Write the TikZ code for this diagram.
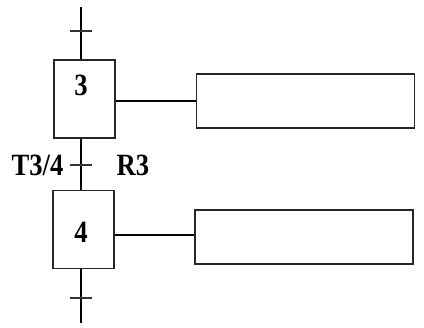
\documentclass[tikz,border=0pt]{standalone}
\usepackage{fontspec}
\setmainfont{Liberation Serif}
\usepackage{tikz}
\newcommand{\lbl}[1]{\scalebox{0.86}[1]{\fontsize{22}{25}\selectfont\bfseries #1}}
\tikzset{
    stepbox/.style={draw=black!85, line width=1.3pt, minimum width=1.525cm, minimum height=1.95cm, inner sep=0},
    actbox/.style={draw=black!85, line width=1.3pt, minimum width=5.45cm, minimum height=1.35cm, inner sep=0},
    tick/.style={fill=black!80, minimum width=0.525cm, minimum height=0.06cm, inner sep=0},
    wire/.style={line width=1.1pt, color=black}
}
\begin{document}
\begin{tikzpicture}[x=0.025cm, y=-0.025cm]
                \useasboundingbox (0, 0) rectangle (424, 328);
                \coordinate (in) at (81, 7);
                \coordinate (out) at (81, 323);
                \node[stepbox] (step3) at (84.5, 99) {};
                \node[stepbox] (step4) at (83.5, 229.5) {};
                \node[actbox] (act3) at (305.5, 101) {};
                \node[actbox] (act4) at (304, 237) {};

                \node (num3) at (81, 85) {\lbl{3}};
                \node (num4) at (81, 232) {\lbl{4}};

                \draw[wire] (in) -- (in |- step3.north);
                \draw[wire] (in |- step3.south) -- (in |- step4.north);
                \draw[wire] (in |- step4.south) -- (out);
                \draw[wire] (step3.east |- act3.west) -- (act3.west);
                \draw[wire] (step4.east |- 0, 235) -- (act4.west |- 0, 235);

                \node[tick] (t23) at (81, 31) {};
                \node[tick] (t34) at (81, 165) {};
                \node[tick] (t45) at (81, 298) {};

                \node[anchor=east, inner sep=1pt] (cond) at (65, 165) {\lbl{T3/4}};
                \node[anchor=west, inner sep=1pt] (recept) at (115, 165) {\lbl{R3}};
            \end{tikzpicture}
\end{document}
